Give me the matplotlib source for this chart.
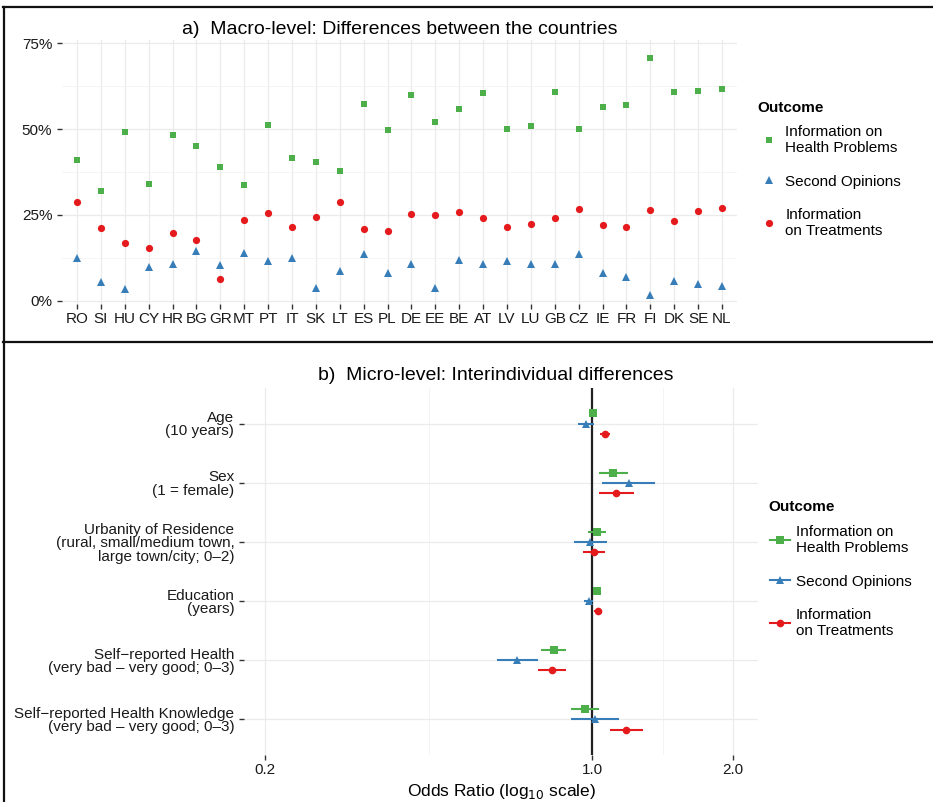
import matplotlib
matplotlib.use("Agg")
import matplotlib.pyplot as plt
import numpy as np
from matplotlib.lines import Line2D

plt.rcParams['font.family'] = ['Liberation Sans', 'DejaVu Sans']

# panel a: share per country
countries = ["RO", "SI", "HU", "CY", "HR", "BG", "GR", "MT", "PT", "IT", "SK", "LT", "ES", "PL",
             "DE", "EE", "BE", "AT", "LV", "LU", "GB", "CZ", "IE", "FR", "FI", "DK", "SE", "NL"]
info_health = [40.9, 32.0, 49.0, 34.1, 48.3, 45.2, 39.0, 33.6, 51.1, 41.7, 40.4, 37.7, 57.3, 49.8,
               59.9, 52.0, 55.8, 60.6, 49.9, 51.0, 60.9, 49.9, 56.4, 57.1, 70.6, 60.7, 61.1, 61.7]
second_op = [12.5, 5.6, 3.5, 9.9, 10.6, 14.4, 10.3, 13.8, 11.5, 12.4, 3.8, 8.6, 13.5, 8.1,
             10.7, 3.8, 11.9, 10.7, 11.5, 10.8, 10.8, 13.6, 8.0, 6.9, 1.8, 5.9, 5.0, 4.2]
info_treat = [28.7, 21.1, 16.7, 15.3, 19.8, 17.6, 6.4, 23.4, 25.6, 21.4, 24.5, 28.7, 20.8, 20.4,
              25.3, 25.0, 25.8, 24.1, 21.4, 22.5, 24.0, 26.7, 22.0, 21.5, 26.5, 23.3, 26.2, 27.0]

# panel b: odds ratios with confidence intervals
predictors = ["Age\n(10 years)", "Sex\n(1 = female)",
              "Urbanity of Residence\n(rural, small/medium town,\nlarge town/city; 0\u20132)",
              "Education\n(years)", "Self\u2212reported Health\n(very bad \u2013 very good; 0\u20133)",
              "Self\u2212reported Health Knowledge\n(very bad \u2013 very good; 0\u20133)"]
or_health = [1.003, 1.107, 1.021, 1.021, 0.827, 0.966]
lo_health = [0.990, 1.031, 0.977, 1.012, 0.777, 0.902]
hi_health = [1.020, 1.192, 1.071, 1.030, 0.879, 1.033]
or_second = [0.969, 1.196, 0.990, 0.982, 0.691, 1.015]
lo_second = [0.932, 1.050, 0.914, 0.961, 0.624, 0.900]
hi_second = [1.010, 1.358, 1.075, 1.003, 0.767, 1.142]
or_treat = [1.062, 1.125, 1.007, 1.026, 0.820, 1.180]
lo_treat = [1.036, 1.033, 0.955, 1.010, 0.766, 1.089]
hi_treat = [1.091, 1.227, 1.064, 1.040, 0.880, 1.283]

outcomes = ["Information on\nHealth Problems", "Second Opinions", "Information\non Treatments"]
colors = ["#4DAF4A", "#377EB8", "#E41A1C"]
markers = ["s", "^", "o"]

W, H = 933, 802
fig = plt.figure(figsize=(W / 100, H / 100), dpi=100)


def px_axes(l, t, r, b):
    return fig.add_axes([l / W, 1 - b / H, (r - l) / W, (b - t) / H])


def style(ax):
    for s in ax.spines.values():
        s.set_visible(False)
    ax.tick_params(length=3.5, width=1, color="#333333", labelsize=11, labelcolor="#1a1a1a")
    ax.tick_params(which="minor", length=0)
    ax.set_axisbelow(True)


def outcome_legend(handles, title_xy, anchor_xy, handlelength, textpad):
    fig.text(title_xy[0] / W, 1 - title_xy[1] / H, "Outcome", fontsize=11,
             fontweight="bold", ha="left", va="center")
    leg = fig.legend(handles, outcomes, loc="upper left",
                     bbox_to_anchor=(anchor_xy[0] / W, 1 - anchor_xy[1] / H),
                     frameon=False, fontsize=11, borderpad=0, borderaxespad=0,
                     handlelength=handlelength, handletextpad=textpad, labelspacing=1.27)
    return leg


# ---- a) macro level
ax1 = px_axes(62, 40, 737, 304)
style(ax1)
x = np.arange(len(countries))
for vals, c, m, ms in zip([info_health, second_op, info_treat], colors, markers, [5, 6, 5.2]):
    ax1.plot(x, vals, linestyle="none", marker=m, color=c, markersize=ms, markeredgewidth=0)
ax1.set_xlim(-0.63, len(countries) - 0.37)
ax1.set_ylim(-0.9, 75.9)
ax1.set_xticks(x)
ax1.set_xticklabels(countries)
ax1.set_yticks([0, 25, 50, 75])
ax1.set_yticklabels(["0%", "25%", "50%", "75%"])
ax1.set_yticks([12.5, 37.5, 62.5], minor=True)
ax1.tick_params(axis="x", pad=2)
ax1.grid(True, which="major", color="#ebebeb", linewidth=0.9)
ax1.grid(True, which="minor", axis="y", color="#f2f2f2", linewidth=0.6)
fig.text(400 / W, 1 - 30 / H, "a)  Macro-level: Differences between the countries",
         ha="center", va="center", fontsize=14)

h1 = [Line2D([], [], linestyle="none", marker=m, color=c, markersize=ms, markeredgewidth=0)
      for c, m, ms in zip(colors, markers, [5, 6, 5.2])]
outcome_legend(h1, (757, 108), (760, 125), 1.2, 0.45)

# ---- b) micro level
ax2 = px_axes(244, 388, 758, 755)
style(ax2)
ax2.set_xscale("log")
ypos = np.arange(1, len(predictors) + 1)
ax2.axvline(1.0, color="#222222", linewidth=1.6, zorder=2)
dodge = [-0.17, 0.0, 0.17]
series = [(or_health, lo_health, hi_health), (or_second, lo_second, hi_second),
          (or_treat, lo_treat, hi_treat)]
for (est, lo, hi), c, m, d in zip(series, colors, markers, dodge):
    est = np.array(est)
    err = [est - np.array(lo), np.array(hi) - est]
    ax2.errorbar(est, ypos + d, xerr=err, linestyle="none", marker=m, color=c,
                 markersize=5.5, markeredgewidth=0, elinewidth=1.5, capsize=0, zorder=3)
ax2.set_xlim(0.180, 2.26)
ax2.set_ylim(len(predictors) + 0.6, 0.4)
ax2.set_yticks(ypos)
ax2.set_yticklabels(predictors, linespacing=0.95)
ax2.set_xticks([0.2, 1.0, 2.0])
ax2.set_xticklabels(["0.2", "1.0", "2.0"])
ax2.xaxis.set_minor_locator(matplotlib.ticker.FixedLocator([np.sqrt(0.2), np.sqrt(2.0)]))
ax2.xaxis.set_minor_formatter(matplotlib.ticker.NullFormatter())
ax2.tick_params(axis="x", pad=2)
ax2.grid(True, which="major", color="#ebebeb", linewidth=0.9)
ax2.grid(True, which="minor", axis="x", color="#f2f2f2", linewidth=0.6)
ax2.set_xlabel("Odds Ratio (log$_{10}$ scale)", fontsize=12.5, labelpad=4)
fig.text(496 / W, 1 - 376 / H, "b)  Micro-level: Interindividual differences",
         ha="center", va="center", fontsize=14)

h2 = [Line2D([], [], color=c, marker=m, markersize=5.5, markeredgewidth=0, linewidth=1.5)
      for c, m in zip(colors, markers)]
outcome_legend(h2, (768, 507), (770, 525), 1.3, 0.4)

# panel frames
for xs, ys in [([3, W], [7, 7]), ([4, 4], [7, H]), ([3, W], [342, 342])]:
    fig.add_artist(Line2D([v / W for v in xs], [1 - v / H for v in ys], color="#111111",
                          linewidth=1.6, transform=fig.transFigure))

fig.savefig("out.png", dpi=100)
